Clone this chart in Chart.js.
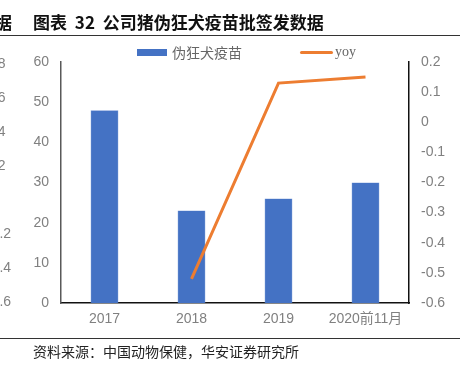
<!DOCTYPE html>
<html>
<head>
<meta charset="utf-8">
<script src="https://cdn.jsdelivr.net/npm/chart.js@4.4.0/dist/chart.umd.min.js"></script>
<style>
  html, body { margin: 0; padding: 0; background: #fff; }
  body { width: 465px; height: 367px; position: relative; overflow: hidden;
         font-family: "Noto Sans CJK SC", sans-serif; }
  .abs { position: absolute; white-space: nowrap; }
  #title { left: 33px; top: 10px; font-size: 17px; font-weight: bold; color: #111; word-spacing: 4px; line-height: 24px; }
  #cut { left: -5px; top: 10px; font-size: 17px; font-weight: bold; color: #111; line-height: 24px; }
  .rule { position: absolute; left: 0; width: 460px; height: 0; border-top: 1.5px solid #333; }
  #src { left: 33px; top: 341px; font-size: 14px; color: #222; line-height: 20px; }
  .lg { font-size: 14px; color: #666; line-height: 18px; top: 43px; }
  .cutTick { position: absolute; left: -14px; width: 30px; font: 14px "Liberation Sans", sans-serif; color: #808080; line-height: 16px; }
  #wrap { position: absolute; left: 0; top: 0; width: 465px; height: 367px; }
</style>
</head>
<body>
<div id="wrap"><canvas id="chart"></canvas></div>

<div class="abs" id="cut">据</div>
<div class="abs" id="title">图表 32 公司猪伪狂犬疫苗批签发数据</div>
<div class="rule" style="top:35px"></div>

<div class="abs" style="left:137px;top:49px;width:30px;height:7px;background:#4472C4"></div>
<div class="abs lg" style="left:172px">伪狂犬疫苗</div>
<div class="abs" style="left:300px;top:51px;width:33px;height:3px;background:#ED7D31;border-radius:2px"></div>
<div class="abs lg" style="left:335px;font-family:'Liberation Serif',serif">yoy</div>

<div id="cutTicks"></div>

<div class="rule" style="top:338px"></div>
<div class="abs" id="src">资料来源：中国动物保健，华安证券研究所</div>

<script>
const categories = ['2017', '2018', '2019', '2020前11月'];
const vaccineBatches = [48, 23, 26, 30];
const yoy = [null, -0.52, 0.13, 0.15];
const leftTicks = [0, 10, 20, 30, 40, 50, 60];
const rightTicks = [-0.6, -0.5, -0.4, -0.3, -0.2, -0.1, 0, 0.1, 0.2];
// partly visible axis labels of the neighbouring chart on the left edge
const neighbourTicks = ['0.8', '0.6', '0.4', '0.2', '', '-0.2', '-0.4', '-0.6'];

const cutBox = document.getElementById('cutTicks');
neighbourTicks.forEach((t, i) => {
    const d = document.createElement('div');
    d.className = 'cutTick';
    d.style.top = (55 + i * 34) + 'px';
    d.textContent = t;
    if (t.startsWith('-')) d.style.left = '-13px';
    cutBox.appendChild(d);
});

const tickFont = { family: '"Liberation Sans", "Noto Sans CJK SC", sans-serif', size: 14 };
const tickColor = '#808080';

new Chart(document.getElementById('chart'), {
    data: {
        labels: categories,
        datasets: [
            {
                type: 'line',
                label: 'yoy',
                data: yoy,
                yAxisID: 'y1',
                borderColor: '#ED7D31',
                borderWidth: 3,
                pointRadius: 0,
                tension: 0,
                order: 0
            },
            {
                type: 'bar',
                label: '伪狂犬疫苗',
                data: vaccineBatches,
                yAxisID: 'y',
                backgroundColor: '#4472C4',
                borderColor: '#6f93d6',
                borderWidth: 0.5,
                categoryPercentage: 1,
                barPercentage: 0.32,
                order: 1
            }
        ]
    },
    options: {
        responsive: true,
        maintainAspectRatio: false,
        animation: false,
        layout: { padding: { top: 62, left: 0, right: 0, bottom: 0 } },
        plugins: { legend: { display: false }, tooltip: { enabled: false } },
        scales: {
            x: {
                grid: { display: false, drawTicks: false },
                border: { display: true, color: '#111', width: 1.5 },
                ticks: { font: tickFont, color: tickColor, padding: 8, maxRotation: 0 },
                afterFit: s => { s.height = 64; }
            },
            y: {
                position: 'left',
                min: 0, max: 60,
                grid: { display: false, drawTicks: false },
                border: { display: true, color: '#595959', width: 1.5 },
                afterBuildTicks: s => { s.ticks = leftTicks.map(v => ({ value: v })); },
                ticks: { font: tickFont, color: tickColor, padding: 12 },
                afterFit: s => { s.width = 61; }
            },
            y1: {
                position: 'right',
                min: -0.6, max: 0.2,
                grid: { display: false, drawTicks: false },
                border: { display: true, color: '#111', width: 1.5 },
                afterBuildTicks: s => { s.ticks = rightTicks.map(v => ({ value: v })); },
                ticks: {
                    font: tickFont, color: tickColor, padding: 12,
                    callback: v => Math.abs(v) < 1e-9 ? '0' : String(Math.round(v * 10) / 10)
                },
                afterFit: s => { s.width = 56; }
            }
        }
    }
});
</script>
</body>
</html>
